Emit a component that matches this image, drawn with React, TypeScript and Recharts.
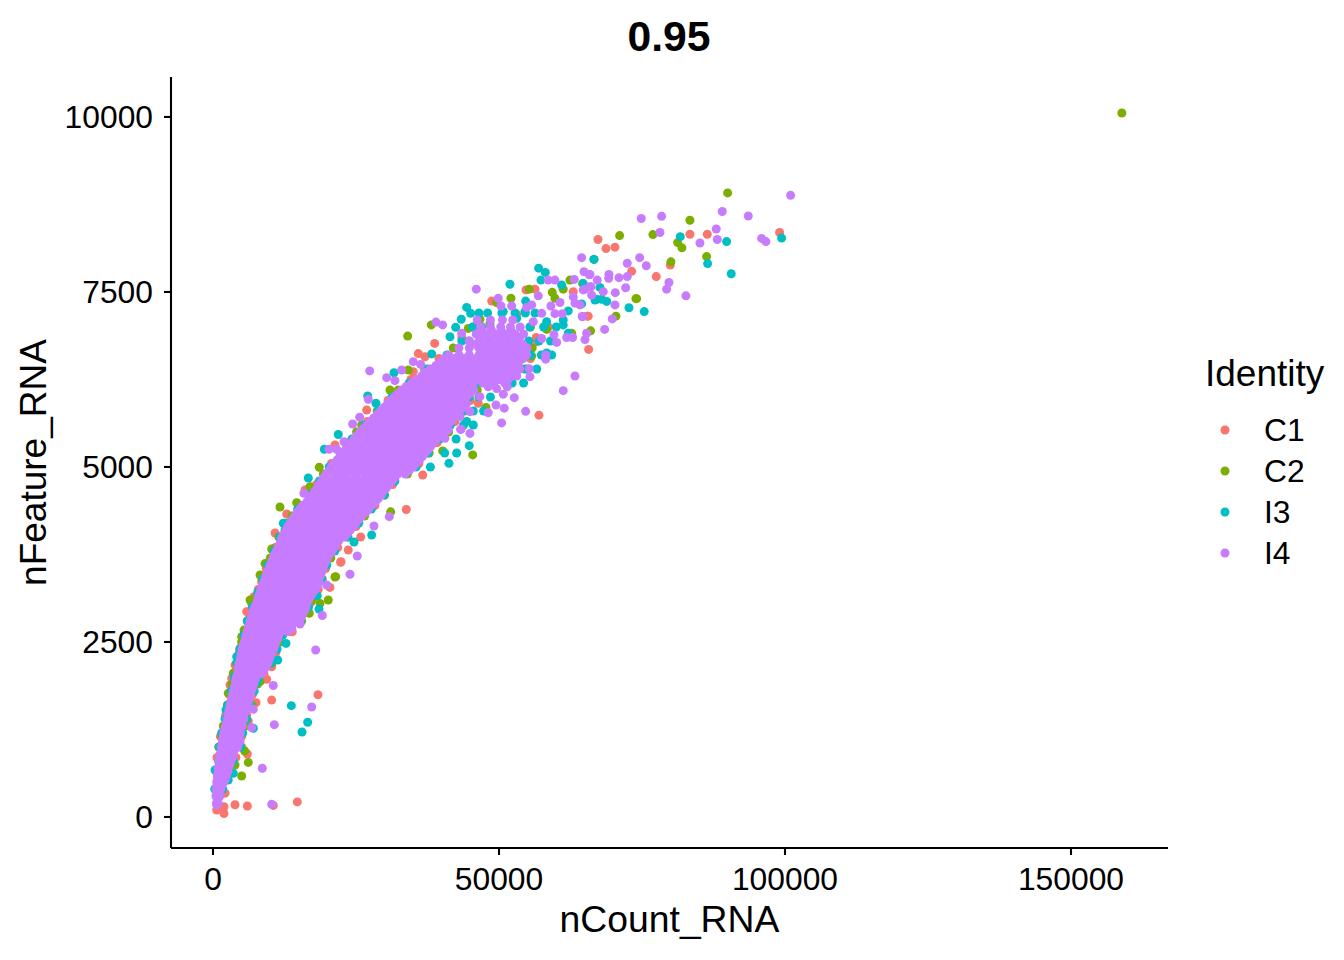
import { ScatterChart, Scatter, XAxis, YAxis, ZAxis, Label } from "recharts";

const identities = ["C1", "C2", "I3", "I4"];
const colors = ["#F8766D", "#7CAE00", "#00BFC4", "#C77CFF"];
const xTicks = [0, 50000, 100000, 150000];
const yTicks = [0, 2500, 5000, 7500, 10000];

type Row = [number, number[]];

// dense ribbon, read row by row: nFeature, then the nCount values on that row
const i4Rows: Row[] = [
  [170, [650]],
  [200, [600, 900]],
  [300, [500, 1200]],
  [350, [700, 1100]],
  [400, [550, 1350]],
  [450, [700, 1500]],
  [500, [650, 1300, 1900]],
  [550, [800, 1600, 2200]],
  [600, [750, 1500, 2350]],
  [650, [950, 1800, 2600]],
  [700, [900, 1750, 2700]],
  [750, [1100, 2000, 2950]],
  [800, [1050, 2000, 3100]],
  [850, [1250, 2250, 3350]],
  [900, [1250, 2300, 3500]],
  [950, [1450, 2550, 3700]],
  [1000, [1450, 2500, 3500, 4300]],
  [1050, [1650, 2800, 3950]],
  [1100, [1650, 2750, 3800, 4600]],
  [1150, [1850, 3000, 4200]],
  [1200, [1850, 3000, 4050, 4800]],
  [1250, [2100, 3250, 4450]],
  [1300, [2200, 3300, 4200, 5100]],
  [1350, [2400, 3500, 4650]],
  [1400, [2500, 3500, 4500, 5400]],
  [1450, [2700, 3750, 4900]],
  [1500, [2750, 3750, 4800, 5600]],
  [1550, [2900, 4000, 5100, 5800]],
  [1600, [3000, 4000, 5000, 6000]],
  [1650, [3150, 4250, 5350, 6200]],
  [1700, [3300, 4300, 5300, 6300]],
  [1750, [3450, 4550, 5650, 6550]],
  [1800, [3600, 4600, 5600, 6700]],
  [1850, [3750, 4800, 5900, 6950]],
  [1900, [3900, 4900, 5900, 7100]],
  [1950, [3950, 5100, 6200, 7300]],
  [2000, [4100, 5100, 6300, 7500]],
  [2050, [4300, 5400, 6500, 7700, 8500]],
  [2100, [4400, 5500, 6700, 7900, 8900]],
  [2150, [4500, 5700, 6900, 8100, 9300]],
  [2200, [4600, 5800, 7000, 8300, 9600]],
  [2250, [4800, 6000, 7300, 8500, 9800]],
  [2300, [4900, 6100, 7400, 8700, 10000]],
  [2350, [5000, 6300, 7600, 8900, 10200]],
  [2400, [5100, 6400, 7800, 9100, 10600]],
  [2450, [5300, 6600, 8000, 9400, 10800]],
  [2500, [5500, 6800, 8200, 9600, 11000]],
  [2550, [5700, 7000, 8400, 9800, 11300]],
  [2600, [5800, 7200, 8600, 10000, 11500]],
  [2650, [6000, 7400, 8800, 10300, 11800, 13000]],
  [2700, [6200, 7600, 9000, 10500, 12000, 13400]],
  [2750, [6400, 7800, 9300, 10800, 12300, 13800]],
  [2800, [6500, 8000, 9500, 11000, 12500, 14000, 14900]],
  [2850, [6700, 8200, 9700, 11200, 12800, 14300, 15400]],
  [2900, [6900, 8400, 9900, 11500, 13000, 14500, 15700]],
  [2950, [7100, 8600, 10200, 11700, 13300, 14900, 16000]],
  [3000, [7300, 8800, 10400, 12000, 13600, 15100, 16200]],
  [3050, [7600, 9100, 10700, 12300, 13900, 15400, 16400]],
  [3100, [7800, 9300, 10900, 12500, 14100, 15600, 16700]],
  [3150, [8000, 9600, 11200, 12800, 14400, 16000, 17000]],
  [3200, [8200, 9800, 11400, 13000, 14600, 16200, 17400]],
  [3250, [8400, 10000, 11600, 13300, 14900, 16500, 17900]],
  [3300, [8700, 10300, 11900, 13500, 15200, 16800, 18200]],
  [3350, [8900, 10500, 12200, 13800, 15500, 17100, 18400]],
  [3400, [9100, 10700, 12400, 14000, 15700, 17300, 18500]],
  [3450, [9300, 11000, 12600, 14300, 16000, 17600, 18800]],
  [3500, [9500, 11200, 12900, 14500, 16200, 17900, 19000]],
  [3550, [9800, 11500, 13100, 14800, 16500, 18100, 19200]],
  [3600, [10000, 11700, 13400, 15100, 16700, 18400, 19400]],
  [3650, [10300, 12000, 13700, 15300, 17000, 18600, 19700]],
  [3700, [10500, 12200, 13900, 15600, 17200, 18900, 20000]],
  [3750, [10800, 12500, 14200, 15900, 17600, 19300, 20300]],
  [3800, [11100, 12800, 14500, 16200, 17900, 19600, 20800]],
  [3850, [11400, 13100, 14800, 16500, 18200, 19900, 21200]],
  [3900, [11700, 13400, 15100, 16800, 18500, 20200, 21500]],
  [3950, [11900, 13600, 15300, 17000, 18800, 20500, 22000]],
  [4000, [12100, 13800, 15500, 17200, 18900, 20600, 22300, 23000]],
  [4050, [12500, 14200, 15900, 17600, 19300, 21000, 22700, 23500]],
  [4100, [12800, 14500, 16200, 17900, 19600, 21300, 23000, 24000]],
  [4150, [13100, 14800, 16500, 18200, 19900, 21700, 23400, 24500]],
  [4200, [13500, 15200, 16900, 18600, 20300, 22000, 23700, 25000]],
  [4250, [13900, 15600, 17300, 19000, 20700, 22500, 24200, 25500]],
  [4300, [14300, 16000, 17700, 19400, 21100, 22900, 24600, 26000]],
  [4350, [14700, 16400, 18100, 19800, 21600, 23300, 25000, 26700]],
  [4400, [15200, 16900, 18600, 20300, 22000, 23700, 25500, 27200]],
  [4450, [15700, 17400, 19100, 20800, 22500, 24200, 26000, 27700]],
  [4500, [16400, 18100, 19800, 21500, 23200, 24900, 26700, 28400]],
  [4550, [16900, 18600, 20300, 22000, 23700, 25500, 27200, 28900]],
  [4600, [17300, 19000, 20700, 22400, 24200, 25900, 27600, 29400]],
  [4650, [17800, 19500, 21200, 23000, 24700, 26400, 28200, 29700]],
  [4700, [18200, 19900, 21700, 23400, 25100, 26900, 28600, 30300]],
  [4750, [18600, 20300, 22100, 23800, 25600, 27300, 29100, 30800]],
  [4800, [19000, 20800, 22500, 24300, 26000, 27800, 29500, 31300]],
  [4850, [19400, 21200, 22900, 24700, 26500, 28200, 30000, 31800]],
  [4900, [19800, 21600, 23300, 25100, 26900, 28700, 30500, 32300, 33600]],
  [4950, [20300, 22100, 23800, 25600, 27400, 29200, 31000, 32800, 34300]],
  [5000, [20700, 22500, 24300, 26100, 27900, 29700, 31500, 33300, 35000]],
  [5050, [21200, 23000, 24800, 26600, 28400, 30200, 32000, 33800, 35500]],
  [5100, [21700, 23500, 25300, 27100, 28900, 30700, 32500, 34300, 36100]],
  [5150, [22200, 24000, 25800, 27600, 29400, 31200, 33000, 34800, 36600]],
  [5200, [22700, 24500, 26300, 28100, 29900, 31700, 33500, 35300, 37100]],
  [5250, [23200, 25000, 26800, 28600, 30400, 32200, 34000, 35800, 37600]],
  [5300, [23700, 25500, 27300, 29100, 30900, 32700, 34500, 36300, 38100]],
  [5350, [24200, 26000, 27800, 29600, 31400, 33200, 35000, 36800, 38600]],
  [5400, [24700, 26500, 28300, 30100, 31900, 33700, 35500, 37300, 39100]],
  [5450, [25200, 27000, 28800, 30600, 32400, 34200, 36000, 37800, 39600]],
  [5500, [25700, 27500, 29300, 31100, 32900, 34700, 36500, 38300, 40100]],
  [5550, [26300, 28100, 29900, 31700, 33500, 35300, 37100, 38900, 40600]],
  [5600, [26900, 28700, 30500, 32300, 34100, 35900, 37700, 39500, 41000]],
  [5650, [27500, 29300, 31100, 32900, 34700, 36500, 38300, 40100, 41600]],
  [5700, [28100, 29900, 31700, 33500, 35300, 37100, 38900, 40700, 42000]],
  [5750, [28700, 30500, 32300, 34100, 35900, 37700, 39500, 41300, 42700]],
  [5800, [29300, 31100, 32900, 34700, 36500, 38300, 40100, 41900, 43100]],
  [5850, [29900, 31700, 33500, 35300, 37100, 38900, 40700, 42500, 43800]],
  [5900, [30500, 32300, 34100, 35900, 37700, 39500, 41300, 43100, 44300]],
  [5950, [31100, 32900, 34700, 36500, 38300, 40100, 41900, 43700]],
  [6000, [31700, 33500, 35300, 37100, 38900, 40700, 42500, 44300]],
  [6050, [32300, 34100, 35900, 37700, 39500, 41300, 43100, 45000]],
  [6100, [33000, 34800, 36600, 38400, 40200, 42000, 43800, 45600]],
  [6150, [33800, 35600, 37400, 39200, 41000, 42800, 44600]],
  [6200, [34800, 36600, 38400, 40200, 42000, 43800, 45500, 47200, 49000, 51000]],
  [6250, [35600, 37400, 39300, 41100, 42900, 44700, 46300, 48100, 49800, 51600]],
  [6300, [36500, 38300, 40100, 41900, 43700, 45500, 47200, 48900, 50600, 52300]],
  [6350, [37000, 38900, 40800, 42700, 44600, 46200, 47900, 49600, 51300, 53000]],
  [6400, [38000, 39800, 41600, 43400, 45100, 46800, 48500, 50200, 51900, 53600]],
  [6450, [39000, 40700, 42400, 44200, 45900, 47600, 49300, 51000, 52700]],
  [6500, [39800, 41500, 43200, 45000, 46700, 48400, 50100, 51800, 53500]],
  [6550, [40500, 42200, 44000, 46000, 47600, 49300, 51000, 52700, 54200]],
  [6600, [41200, 43000, 44800, 46500, 48200, 49900, 51600, 53300, 54800]],
  [6650, [47000, 48700, 50400, 52100, 53800]],
  [6700, [43000, 44800, 46500, 48200, 49900, 51600, 53300, 54900]],
  [6750, [46000, 47400, 49100, 50800, 52500, 54200]],
  [6800, [44800, 46500, 48200, 49900, 51600, 53300]],
  [6850, [46800, 48500, 50200, 51900, 53600]],
  [6900, [46000, 47700, 49400, 51100, 52800, 54300]],
  [6950, [47000, 48700, 50400, 52100]],
  [7000, [46800, 48500, 50300, 52000, 53700]],
  [7100, [46200, 48500, 50600, 52400]],
];

// extra I4 points that close the thin gaps in the middle of the ribbon
const i4Fill: Row[] = [
  [2400, [5750, 7100, 8450, 9850]],
  [2500, [6150, 7500, 8900, 10300]],
  [2600, [6500, 7900, 9300, 10750]],
  [2700, [6900, 8300, 9750, 11250, 12700]],
  [2800, [7250, 8750, 10250, 11750, 13250, 14450]],
  [2900, [7650, 9150, 10700, 12250, 13750]],
  [3000, [8050, 9600, 11200, 12800, 14350]],
  [3100, [8550, 10100, 11700, 13300, 14850]],
  [3200, [9000, 10600, 12200, 13800, 15400]],
  [3300, [9500, 11100, 12700, 14350, 16000]],
  [3400, [9900, 11550, 13200, 14850, 16500]],
  [3500, [10350, 12050, 13700, 15350, 17050]],
  [3600, [10850, 12550, 14250, 15900, 17550]],
  [3700, [11350, 13050, 14750, 16400, 18050]],
  [3800, [11950, 13650, 15350, 17050, 18750]],
  [3900, [12550, 14250, 15950, 17650, 19350]],
  [4000, [12950, 14650, 16350, 18050, 19750, 21450]],
  [4100, [13650, 15350, 17050, 18750, 20450, 22150]],
  [4200, [14350, 16050, 17750, 19450, 21150, 22850]],
  [4300, [15150, 16850, 18550, 20250, 22000, 23750]],
  [4400, [16050, 17750, 19450, 21150, 22850, 24600, 26350]],
  [4500, [17250, 18950, 20650, 22350, 24050, 25800, 27550]],
  [4600, [18150, 19850, 21550, 23300, 25050, 26750, 28500]],
  [4700, [19050, 20800, 22550, 24250, 26000, 27750, 29450]],
  [4800, [19900, 21650, 23400, 25150, 26900, 28650, 30400]],
];

const i3Rows: Row[] = [
  [400, [300, 1700]],
  [600, [800, 2700]],
  [800, [1000, 3500]],
  [1000, [1100, 4800]],
  [1200, [1500, 5200]],
  [1400, [2100, 5900]],
  [1600, [2600, 6500]],
  [1800, [3200, 7200]],
  [2000, [3700, 8000]],
  [2200, [4200, 10100]],
  [2400, [4700, 11200]],
  [2600, [5400, 12200]],
  [2800, [6000, 15300]],
  [3000, [6900, 16700]],
  [3200, [7800, 17900]],
  [3400, [8700, 19000]],
  [3600, [9600, 19900]],
  [3800, [10700, 21300]],
  [4000, [11700, 23500]],
  [4200, [13100, 25500]],
  [4400, [14800, 27700]],
  [4600, [16900, 29900]],
  [4800, [18600, 31800]],
  [5000, [20300, 35500, 38000]],
  [5200, [22300, 37600, 40500, 42600]],
  [5400, [24300, 39600, 42500]],
  [5600, [26500, 41500, 43800, 45500]],
  [5800, [28900, 43600, 45500, 47300]],
  [6000, [31300, 44800, 46500, 48500]],
  [6200, [34300, 46000, 52300, 54300]],
  [6400, [37600, 54800, 56600]],
  [6600, [40900, 55500, 57400]],
  [6800, [43500, 44800, 55200, 57000, 59000]],
  [7000, [45400, 47000, 55400, 57800, 60000]],
  [7200, [46500, 48000, 50500, 52800, 54600, 56300]],
];

const c2Rows: Row[] = [
  [1000, [1000, 5000]],
  [1300, [1800, 5700]],
  [1600, [2500, 6800]],
  [1900, [3300, 7800]],
  [2200, [4100, 10300]],
  [2500, [5000, 11700]],
  [2800, [6000, 15500]],
  [3100, [7300, 17300]],
  [3400, [8600, 19100]],
  [3700, [10000, 20600]],
  [4000, [11500, 23600]],
  [4300, [13800, 26500]],
  [4600, [16800, 30000]],
  [4900, [19300, 34000]],
  [5200, [22200, 37800]],
  [5500, [25100, 41200]],
  [5800, [28700, 44000]],
  [6100, [32400, 46200]],
  [6400, [37000, 54500]],
  [6700, [42000, 55800]],
  [7000, [45500, 55500]],
];

const c1Rows: Row[] = [
  [850, [700, 4000]],
  [1150, [1300, 5000]],
  [1450, [2200, 5900]],
  [1750, [2900, 6900]],
  [2050, [3600, 8900]],
  [2350, [4600, 11000]],
  [2650, [5500, 13500]],
  [2950, [6600, 16600]],
  [3250, [7900, 18400]],
  [3550, [9300, 19700]],
  [3850, [10900, 21800]],
  [4150, [12700, 25000]],
  [4450, [15200, 28300]],
  [4750, [18100, 31400]],
  [5050, [20700, 36000]],
  [5350, [23700, 39200]],
  [5650, [27000, 42200]],
  [5950, [30600, 45000]],
  [6250, [34600, 50000]],
  [6550, [39500, 55500]],
  [6850, [43500, 56500]],
];

// single points outside the ribbon: [nCount, nFeature]
const c1Points = [
  [650, 100], [1920, 147], [1920, 50], [3850, 175], [6000, 157], [10540, 165], [14740, 215], [2100, 340],
  [18350, 1747], [10260, 1670], [7520, 1633], [6170, 1370], [9380, 1967], [10260, 2147], [13860, 2647], [6000, 900],
  [20450, 3280], [17070, 3060], [22370, 3647], [5890, 2933], [6760, 3050], [4720, 2410], [3850, 2170], [3270, 1980],
  [2970, 1885], [7170, 3147], [8510, 3360], [33790, 4393], [10840, 4057], [12880, 4329], [26870, 5814], [21330, 5314],
  [16080, 4671], [36660, 4886], [23650, 3814], [22320, 3639], [35010, 6360], [25820, 4000], [54710, 7530], [56290, 7540],
  [48720, 7370], [38750, 6765], [35890, 6620], [37060, 6575], [53090, 7180], [62980, 7505], [65600, 7155], [65670, 6680],
  [56990, 5740], [56580, 6790], [58620, 7000], [46370, 5910], [42300, 5650], [67300, 8250], [68700, 8120], [70270, 8140],
  [83380, 8325], [86410, 8325], [99060, 8350], [79940, 7885], [73190, 7795], [77490, 7720], [65430, 7155],
];

const c2Points = [
  [158890, 10057], [89970, 8915], [83380, 8525], [71090, 8305], [76910, 8320], [81230, 8205], [81980, 8130], [86300, 8005],
  [80060, 7930], [74060, 7405], [70440, 7155], [66020, 6945], [66600, 7965], [34030, 6870], [38160, 7030], [55290, 7540],
  [59310, 7495], [61230, 7540], [52090, 7410], [62400, 7670], [64620, 7620], [73940, 7405], [49590, 7350], [59780, 7410],
  [44630, 6980], [46670, 7110], [48420, 7050], [58330, 6965], [62700, 6910], [55710, 6585], [47720, 5850], [51920, 6315],
  [5010, 585], [6170, 780], [5540, 943], [3850, 743], [8220, 1933], [16830, 2910], [18700, 3050], [20150, 3100],
  [21440, 3433], [9090, 3620], [8220, 3457], [5420, 2670], [5010, 2575], [6170, 2815], [6470, 3100], [1520, 1147],
  [2670, 1767], [3550, 2053], [11710, 4429], [14630, 4490], [18580, 4996], [31060, 4359], [21330, 3429], [45400, 5172],
  [40150, 5230], [10260, 3829], [30940, 6100], [34140, 6385], [25990, 5600], [16960, 4717],
];

const i3Points = [
  [81690, 8290], [89790, 8220], [99410, 8270], [86470, 7905], [90600, 7760], [66600, 7965], [72720, 7275], [75390, 7220],
  [67650, 7565], [64730, 7620], [66770, 7385], [68820, 7365], [67950, 7395], [64450, 7330], [56930, 7840], [58090, 7780],
  [57330, 7670], [51920, 7610], [44350, 7280], [45050, 7195], [43400, 7110], [42420, 6995], [41430, 6860], [38230, 6615],
  [54660, 7370], [60950, 7600], [67070, 7395], [62110, 7230], [61230, 7100], [61230, 7030], [62110, 6910], [58330, 7075],
  [58330, 6630], [59210, 6600], [50750, 7220], [53090, 7125], [54540, 7220], [44800, 5305], [44350, 5650], [13690, 1590],
  [16550, 1353], [15560, 1214], [7050, 1267], [3550, 624], [2670, 528], [12760, 2480], [11310, 2243], [18130, 3162],
  [18530, 2970], [7920, 3218], [4140, 2290], [2270, 1530], [350, 671], [7640, 1920], [21900, 5464], [19460, 5253],
  [16660, 4843], [27040, 6014], [31640, 6346], [41250, 5052], [27740, 4029], [24650, 3929], [12290, 4196], [12590, 4100],
  [18230, 3162], [28490, 5910],
];

const i4Points = [
  [100980, 8880], [74870, 8550], [78430, 8580], [89030, 8650], [93580, 8585], [78140, 8350], [85130, 8200], [87980, 8400],
  [88160, 8250], [95910, 8265], [96660, 8220], [74590, 7990], [75750, 7875], [72420, 7910], [64450, 7990], [64850, 7790],
  [65780, 7745], [69220, 7750], [69170, 7695], [70970, 7705], [72420, 7720], [67180, 7670], [72140, 7560], [70330, 7490],
  [68230, 7505], [70270, 7315], [69800, 7115], [68470, 6965], [65320, 6910], [65030, 6820], [64620, 7150], [79710, 7635],
  [79300, 7540], [82680, 7445], [65030, 7540], [66070, 7575], [66200, 7455], [46030, 7540], [65900, 7750], [38980, 7070],
  [40150, 7030], [43470, 6910], [58620, 7670], [59780, 7670], [63160, 7680], [65900, 7575], [64730, 7530], [62980, 7430],
  [63280, 7340], [64150, 7315], [60660, 7350], [59080, 7300], [56860, 7445], [55710, 7315], [54830, 7280], [52210, 7300],
  [49870, 7410], [50340, 7300], [57460, 7195], [55990, 7075], [59780, 7190], [61060, 7190], [64550, 7150], [61830, 6850],
  [62880, 6850], [59610, 6890], [60080, 6780], [57460, 6835], [58160, 6600], [58160, 6540], [63280, 6300], [61230, 6090],
  [54660, 5795], [52670, 5990], [50920, 5840], [49470, 5885], [48120, 5775], [50460, 5630], [55290, 6405], [55410, 6290],
  [53090, 6300], [51440, 6145], [50750, 6040], [49590, 6120], [48120, 6145], [46670, 6005], [44170, 6050], [44920, 5790],
  [43750, 5910], [43170, 5720], [43340, 5540], [44920, 5480], [40550, 5410], [41130, 5530], [39380, 5560], [35010, 6505],
  [36300, 6465], [32980, 6385], [23950, 3467], [10260, 181], [8620, 696], [17950, 2386], [17250, 1571], [10720, 1319],
  [6760, 1276], [10540, 1879], [19110, 2878], [15210, 2757], [13760, 2693], [19870, 3314], [7050, 1539], [4720, 1076],
  [27390, 6372], [30360, 6276], [31810, 6233], [27150, 5966], [25640, 5710], [24410, 5614], [22900, 5361], [20280, 5253],
  [21620, 5253], [15900, 4624], [30820, 4290], [28140, 4157], [25220, 3729], [43300, 5537],
];

const toPoints = (rows: Row[], extra: number[][]) => [
  ...rows.flatMap(([y, xs]) => xs.map((x) => ({ x, y }))),
  ...extra.map(([x, y]) => ({ x, y })),
];

const seriesData = [
  toPoints(c1Rows, c1Points),
  toPoints(c2Rows, c2Points),
  toPoints(i3Rows, i3Points),
  toPoints([...i4Rows, ...i4Fill], i4Points),
];

const FONT = "'Liberation Sans', Arial, sans-serif";
const legendY = [430, 471, 512, 553];

const dot = (props: any) => <circle cx={props.cx} cy={props.cy} r={4.5} fill={props.fill} />;

export default function App() {
  const axisLine = { stroke: "#000", strokeWidth: 2.1 };
  const tick = { fill: "#000", fontSize: 31.8, fontFamily: FONT };
  return (
    <div style={{ position: "absolute", left: 0, top: 0, background: "#fff" }}>
      <ScatterChart
        width={1344}
        height={960}
        margin={{ top: 77, right: 176, bottom: 0, left: 0 }}
      >
        <XAxis
          type="number"
          dataKey="x"
          domain={[-7343, 166958]}
          ticks={xTicks}
          height={112}
          interval={0}
          tickSize={7}
          tickMargin={12}
          axisLine={axisLine}
          tickLine={axisLine}
          tick={tick}
        >
          <Label
            value="nCount_RNA"
            position="insideBottom"
            offset={28}
            style={{ fill: "#000", fontSize: 37.3, fontFamily: FONT }}
          />
        </XAxis>
        <YAxis
          type="number"
          dataKey="y"
          domain={[-443, 10571]}
          ticks={yTicks}
          width={171}
          interval={0}
          tickSize={7}
          tickMargin={11}
          axisLine={axisLine}
          tickLine={axisLine}
          tick={tick}
        >
          <Label
            value="nFeature_RNA"
            angle={-90}
            position="insideLeft"
            offset={33}
            style={{ fill: "#000", fontSize: 37, fontFamily: FONT, textAnchor: "middle" }}
          />
        </YAxis>
        <ZAxis range={[64, 64]} />
        {identities.map((name, i) => (
          <Scatter
            key={name}
            name={name}
            data={seriesData[i]}
            fill={colors[i]}
            shape={dot}
            isAnimationActive={false}
          />
        ))}
        <text
          x={669}
          y={51}
          textAnchor="middle"
          fontFamily={FONT}
          fontSize={42.7}
          fontWeight="bold"
          fill="#000"
        >
          0.95
        </text>
        <text x={1205} y={386} fontFamily={FONT} fontSize={37} fill="#000">
          Identity
        </text>
        {identities.map((name, i) => (
          <g key={name}>
            <circle cx={1225} cy={legendY[i]} r={4.5} fill={colors[i]} />
            <text x={1264} y={legendY[i] + 11} fontFamily={FONT} fontSize={31.8} fill="#000">
              {name}
            </text>
          </g>
        ))}
      </ScatterChart>
    </div>
  );
}
